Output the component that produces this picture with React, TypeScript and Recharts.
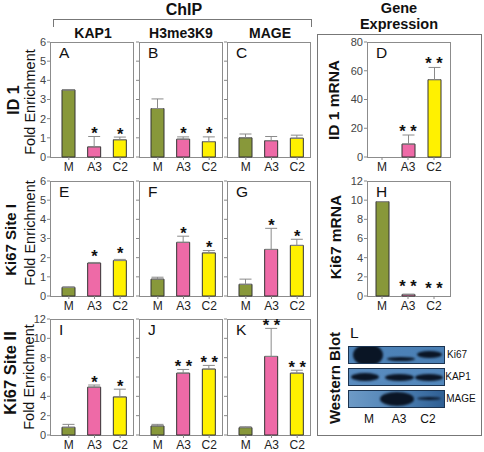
import React from 'react';
import { ComposedChart, Bar, Line, XAxis, YAxis, ErrorBar, Cell } from 'recharts';

const FONT = '"Liberation Sans", Arial, Helvetica, sans-serif';

const cellLines = ['M', 'A3', 'C2'];
const barColors = ['#88983a', '#ee6aa7', '#fff100'];

const ticks6 = [0, 1, 2, 3, 4, 5, 6];
const ticks12 = [0, 2, 4, 6, 8, 10, 12];
const ticks80 = [0, 20, 40, 60, 80];

// ID 1 row
const aValues = [3.5, 0.53, 0.9];
const aErrors = [0, 0.54, 0.14];
const aSig = ['', '*', '*'];
const bValues = [2.53, 0.93, 0.8];
const bErrors = [0.5, 0.12, 0.25];
const bSig = ['', '*', '*'];
const cValues = [1.0, 0.85, 0.98];
const cErrors = [0.2, 0.22, 0.16];
const cSig = ['', '', ''];
const dValues = [0, 9, 53.8];
const dErrors = [0, 6.3, 8.5];
const dSig = ['', '* *', '* *'];
// Ki67 Site I row
const eValues = [0.45, 1.72, 1.85];
const eErrors = [0.03, 0.03, 0.06];
const eSig = ['', '*', '*'];
const fValues = [0.88, 2.8, 2.25];
const fErrors = [0.1, 0.32, 0.12];
const fSig = ['', '*', '*'];
const gValues = [0.61, 2.43, 2.64];
const gErrors = [0.27, 1.1, 0.32];
const gSig = ['', '*', '*'];
const hValues = [9.85, 0.15, 0];
const hErrors = [0, 0.05, 0];
const hSig = ['', '* *', '* *'];
// Ki67 Site II row
const iValues = [0.8, 4.95, 3.94];
const iErrors = [0.3, 0.22, 0.8];
const iSig = ['', '*', '*'];
const jValues = [0.93, 6.4, 6.82];
const jErrors = [0.17, 0.38, 0.38];
const jSig = ['', '* *', '* *'];
const kValues = [0.76, 8.13, 6.4];
const kErrors = [0.1, 2.9, 0.3];
const kSig = ['', '* *', '* *'];

const blotLabels = ['Ki67', 'KAP1', 'MAGE'];

const YW = 30;
const MT = 12;
const XH = 22;

function makeStarDot(lift: number) {
  return (props: any) => {
    const { cx, cy, payload, index } = props;
    if (!payload || !payload.sig) return <g key={`s${index}`} />;
    return (
      <text key={`s${index}`} x={cx} y={cy + 2.5 - lift} textAnchor="middle" fontSize={16.5} fontWeight="bold" fontFamily={FONT} fill="#111">
        {payload.sig}
      </text>
    );
  };
}

type PanelProps = {
  x: number; y: number; w: number; h: number;
  values: number[]; errors: number[]; sig: string[];
  max: number; ticks: number[]; labels: boolean; letter: string;
  padL: number; padR: number; lift?: number;
};

function Panel(p: PanelProps) {
  const data = cellLines.map((name, i) => ({
    name,
    value: p.values[i],
    err: [0, p.errors[i]],
    top: p.values[i] + p.errors[i],
    sig: p.sig[i],
  }));
  const W = YW + p.w + 4;
  const H = MT + p.h + XH;
  return (
    <div style={{ position: 'absolute', left: p.x - YW, top: p.y - MT, width: W, height: H }}>
      <div style={{ position: 'absolute', left: YW, top: MT, width: p.w + 1, height: p.h + 1, border: '1px solid #8c8c8c', boxSizing: 'border-box' }} />
      <div style={{ position: 'absolute', left: YW + 9, top: MT + 3, fontSize: 15.5, lineHeight: 1, fontFamily: FONT, color: '#111' }}>{p.letter}</div>
      <ComposedChart width={W} height={H} data={data} margin={{ top: MT, right: 4, bottom: 0, left: 0 }}>
        <XAxis dataKey="name" height={XH} padding={{ left: p.padL, right: p.padR }} axisLine={false}
          tickLine={{ stroke: '#888' }} tickSize={3} interval={0}
          tick={{ fill: '#222', fontSize: 12, fontFamily: FONT }} />
        <YAxis width={YW} domain={[0, p.max]} ticks={p.ticks} interval={0} axisLine={false}
          tickLine={{ stroke: '#888' }} tickSize={3} tickMargin={1}
          tickFormatter={(v: any) => (p.labels ? String(v) : '')}
          tick={{ fill: '#444', fontSize: 11, fontFamily: FONT }} />
        <Bar dataKey="value" barSize={13} stroke="#333" strokeWidth={1} isAnimationActive={false}>
          {data.map((d, i) => <Cell key={d.name} fill={barColors[i]} />)}
          <ErrorBar dataKey="err" width={6} stroke="#8a8a8a" strokeWidth={1} direction="y" />
        </Bar>
        <Line dataKey="top" stroke="none" dot={makeStarDot(p.lift || 0)} activeDot={false} isAnimationActive={false} legendType="none" />
      </ComposedChart>
    </div>
  );
}

function Txt({ cx, cy, size, bold, rotate, children, color, lh }: any) {
  return (
    <div style={{
      position: 'absolute', left: cx, top: cy,
      transform: `translate(-50%, -50%)${rotate ? ' rotate(-90deg)' : ''}`,
      fontSize: size, fontWeight: bold ? 'bold' : 'normal', fontFamily: FONT,
      lineHeight: lh || 1, whiteSpace: 'nowrap', color: color || '#111', textAlign: 'center',
    }}>{children}</div>
  );
}

function Band({ l, t, w, h }: any) {
  return <div style={{ position: 'absolute', left: l, top: t, width: w, height: h, borderRadius: '50%', background: '#0a1525', filter: 'blur(1.2px)' }} />;
}

function Strip({ top, bg, children }: any) {
  return (
    <div style={{ position: 'absolute', left: 348, top, width: 95, height: 16, background: bg, border: '1px solid #1b3350', overflow: 'hidden' }}>
      {children}
    </div>
  );
}

export default function App() {
  const cols = [50, 139, 227];
  const rows = [42, 181, 319];
  const pw = 83;
  return (
    <div style={{ position: 'absolute', left: 0, top: 0, width: 484, height: 452, background: '#fff', fontFamily: FONT }}>
      {/* headers */}
      <Txt cx={184} cy={10} size={16} bold>ChIP</Txt>
      <div style={{ position: 'absolute', left: 53, top: 19, width: 259, height: 8, borderTop: '1.5px solid #777', borderLeft: '1.5px solid #777', borderRight: '1.5px solid #777', boxSizing: 'border-box' }} />
      <Txt cx={93} cy={33} size={14} bold>KAP1</Txt>
      <Txt cx={181} cy={33} size={14} bold>H3me3K9</Txt>
      <Txt cx={270} cy={33} size={14} bold>MAGE</Txt>
      <Txt cx={399} cy={7.5} size={14.5} bold>Gene</Txt>
      <Txt cx={399} cy={24} size={14.5} bold>Expression</Txt>
      <div style={{ position: 'absolute', left: 317, top: 34, width: 165, height: 402, border: '1.5px solid #777', boxSizing: 'border-box' }} />

      {/* row labels */}
      <Txt cx={14} cy={100} size={16} bold rotate>ID 1</Txt>
      <Txt cx={30} cy={102} size={14.5} rotate>Fold Enrichment</Txt>
      <Txt cx={10} cy={240} size={15} bold rotate>Ki67 Site I</Txt>
      <Txt cx={30} cy={233} size={14.5} rotate>Fold Enrichment</Txt>
      <Txt cx={10} cy={373} size={16.5} bold rotate>Ki67 Site II</Txt>
      <Txt cx={29} cy={377} size={14.5} rotate>Fold Enrichment</Txt>
      <Txt cx={334} cy={100} size={15.5} bold rotate>ID 1 mRNA</Txt>
      <Txt cx={336} cy={237} size={15.5} bold rotate>Ki67 mRNA</Txt>
      <Txt cx={334} cy={378} size={15} bold rotate>Western Blot</Txt>

      {/* panels */}
      <Panel x={cols[0]} y={rows[0]} w={pw} h={115} values={aValues} errors={aErrors} sig={aSig} max={6} ticks={ticks6} labels letter="A" padL={6} padR={0} />
      <Panel x={cols[1]} y={rows[0]} w={pw} h={115} values={bValues} errors={bErrors} sig={bSig} max={6} ticks={ticks6} labels={false} letter="B" padL={6} padR={0} />
      <Panel x={cols[2]} y={rows[0]} w={pw} h={115} values={cValues} errors={cErrors} sig={cSig} max={6} ticks={ticks6} labels={false} letter="C" padL={6} padR={0} />
      <Panel x={367} y={rows[0]} w={pw} h={115} values={dValues} errors={dErrors} sig={dSig} max={80} ticks={ticks80} labels letter="D" padL={2} padR={3} lift={1} />

      <Panel x={cols[0]} y={rows[1]} w={pw} h={115} values={eValues} errors={eErrors} sig={eSig} max={6} ticks={ticks6} labels letter="E" padL={6} padR={0} lift={3} />
      <Panel x={cols[1]} y={rows[1]} w={pw} h={115} values={fValues} errors={fErrors} sig={fSig} max={6} ticks={ticks6} labels={false} letter="F" padL={6} padR={0} />
      <Panel x={cols[2]} y={rows[1]} w={pw} h={115} values={gValues} errors={gErrors} sig={gSig} max={6} ticks={ticks6} labels={false} letter="G" padL={6} padR={0} />
      <Panel x={367} y={rows[1]} w={pw} h={115} values={hValues} errors={hErrors} sig={hSig} max={12} ticks={ticks12} labels letter="H" padL={2} padR={3} lift={5} />

      <Panel x={cols[0]} y={rows[2]} w={pw} h={116} values={iValues} errors={iErrors} sig={iSig} max={12} ticks={ticks12} labels letter="I" padL={6} padR={0} />
      <Panel x={cols[1]} y={rows[2]} w={pw} h={116} values={jValues} errors={jErrors} sig={jSig} max={12} ticks={ticks12} labels={false} letter="J" padL={6} padR={0} />
      <Panel x={cols[2]} y={rows[2]} w={pw} h={116} values={kValues} errors={kErrors} sig={kSig} max={12} ticks={ticks12} labels={false} letter="K" padL={6} padR={0} />

      {/* western blot */}
      <div style={{ position: 'absolute', left: 350, top: 325, fontSize: 15.5, lineHeight: 1, fontFamily: FONT, color: '#111' }}>L</div>
      <Strip top={346} bg="linear-gradient(90deg, #4f84b9, #4a7fb4)">
        <Band l={4} t={-3} w={30} h={22} />
        <Band l={38} t={10} w={28} h={4} />
        <Band l={68} t={4} w={25} h={7} />
      </Strip>
      <Strip top={368} bg="linear-gradient(90deg, #5a8cbf, #5287bb)">
        <Band l={2} t={4} w={28} h={8} />
        <Band l={36} t={5} w={29} h={7} />
        <Band l={66} t={5} w={28} h={7} />
      </Strip>
      <Strip top={390} bg="linear-gradient(90deg, #6d9ac6, #4d80b3 55%, #2f5f93)">
        <Band l={31} t={1} w={34} h={14} />
        <Band l={68} t={6} w={24} h={3} />
      </Strip>
      <Txt cx={457} cy={355} size={10}>{blotLabels[0]}</Txt>
      <Txt cx={458} cy={377} size={10}>{blotLabels[1]}</Txt>
      <Txt cx={461} cy={399} size={10}>{blotLabels[2]}</Txt>
      <Txt cx={369} cy={419} size={12}>M</Txt>
      <Txt cx={399} cy={419} size={12}>A3</Txt>
      <Txt cx={428} cy={419} size={12}>C2</Txt>
    </div>
  );
}
